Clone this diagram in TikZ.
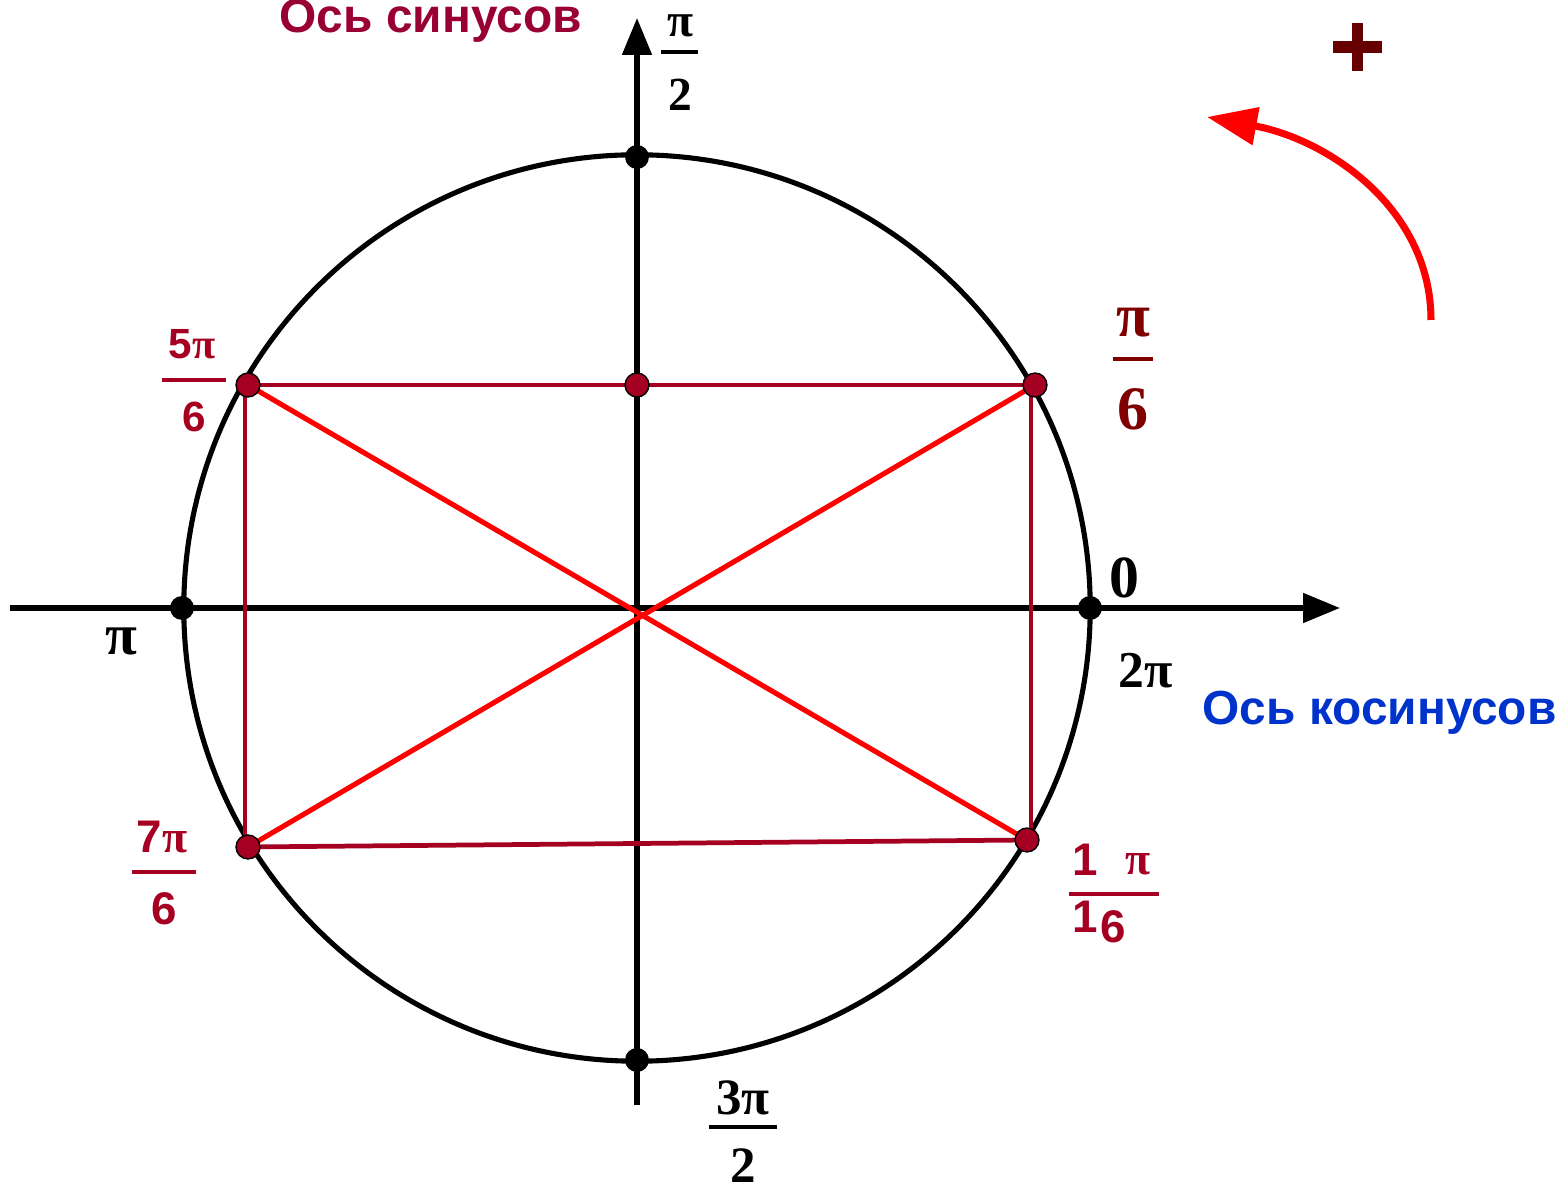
\documentclass[tikz,border=0pt]{standalone}
\usepackage{fontspec}
\setmainfont{Liberation Serif}
\newfontfamily\arialf{Liberation Sans}
\usetikzlibrary{arrows.meta}
\definecolor{dred}{HTML}{A50021}
\definecolor{maroonsix}{HTML}{800000}
\definecolor{sinc}{HTML}{990033}
\definecolor{cosc}{HTML}{0033CC}
\definecolor{plusc}{HTML}{660000}
\newcommand{\myfs}[1]{\fontsize{#1}{#1}\selectfont}
\begin{document}
\begin{tikzpicture}[x=0.01cm,y=0.01cm,
  lbl/.style={inner sep=0pt, anchor=base},
  axis/.style={line width=1.5pt, -{Triangle[length=10.5pt,width=8.2pt]}},
  unitcircle/.style={line width=1.45pt},
  rect/.style={draw=dred, line width=1.35pt},
  diag/.style={draw=red, line width=1.45pt},
  fracbar/.style={line width=1.2pt},
  bdot/.style={circle, fill=black, inner sep=0pt, minimum size=6.8pt},
  rdot/.style={circle, fill=dred, draw=black, line width=0.4pt, inner sep=0pt, minimum size=6.8pt}
]
\useasboundingbox (0,0) rectangle (1563,-1192);

% unit circle
\node[circle, draw, unitcircle, minimum size=906*0.2845pt, inner sep=0pt] (uc) at (637,-608) {};

% axes
\coordinate (xs) at (10,-608);
\coordinate (xe) at (1340,-608);
\coordinate (ys) at (637,-1105);
\coordinate (ye) at (637,-18);
\draw[axis] (xs) -- (xe);
\draw[axis] (ys) -- (ye);

% points
\coordinate (P1) at (1035,-385);
\coordinate (P5) at (248,-385);
\coordinate (P7) at (248,-847);
\coordinate (P11) at (1027,-840);
\coordinate (M) at (637,-385);
\coordinate (R1) at (1031,-385);
\coordinate (R2) at (1031,-840);
\coordinate (L1) at (245,-385);
\coordinate (L2) at (245,-847);

% dark red rectangle
\draw[rect] (P5) -- (M) -- (P1);
\draw[rect] (L1) -- (L2);
\draw[rect] (R1) -- (R2);
\draw[rect] (P7) -- (P11);

% red diagonals
\draw[diag] (P5) -- (P11);
\draw[diag] (P7) -- (P1);

% dots
\node[bdot] (d0) at (1090,-608) {};
\node[bdot] (d90) at (637,-157) {};
\node[bdot] (d180) at (182,-608) {};
\node[bdot] (d270) at (637,-1060) {};
\node[rdot] (dp1) at (P1) {};
\node[rdot] (dp5) at (P5) {};
\node[rdot] (dp7) at (P7) {};
\node[rdot] (dp11) at (P11) {};
\node[rdot] (dm) at (M) {};

% labels: pi/2
\node[lbl, font=\bfseries\myfs{13.5pt}] (phn) at (680,-37) {π};
\node[lbl, font=\bfseries\myfs{13.5pt}] (phd) at (680,-111) {2};
\draw[fracbar] (661,-52) -- (698,-52);

% pi/6
\node[lbl, font=\bfseries\myfs{17.6pt}, text=maroonsix] (p6n) at (1133,-337) {π};
\node[lbl, font=\bfseries\myfs{17.6pt}, text=maroonsix] (p6d) at (1133,-430) {6};
\draw[fracbar, maroonsix, line width=1.4pt] (1113,-359) -- (1153,-359);

% 0, 2pi, pi
\node[lbl, font=\bfseries\myfs{17pt}] (zero) at (1124,-598) {0};
\node[lbl, anchor=base west, font=\bfseries\myfs{14.7pt}] (twopi) at (1118,-688) {2π};
\node[lbl, font=\bfseries\myfs{16.5pt}] (pil) at (121,-655) {π};

% 3pi/2
\node[lbl, font=\bfseries\myfs{14.5pt}] (p32n) at (743,-1115) {3π};
\node[lbl, font=\bfseries\myfs{14.5pt}] (p32d) at (743,-1183) {2};
\draw[fracbar] (709,-1127) -- (777,-1127);

% 5pi/6
\node[lbl, font=\bfseries\myfs{12pt}, text=dred] (p56n) at (192,-359) {{\arialf 5}π};
\node[lbl, font=\bfseries\myfs{12pt}, text=dred] (p56d) at (194,-432) {\arialf 6};
\draw[fracbar, dred] (162,-380) -- (226,-380);

% 7pi/6
\node[lbl, font=\bfseries\myfs{13pt}, text=dred] (p76n) at (162,-853) {{\arialf 7}π};
\node[lbl, font=\bfseries\myfs{13pt}, text=dred] (p76d) at (164,-925) {\arialf 6};
\draw[fracbar, dred] (132,-872) -- (196,-872);

% 11pi/6 (as printed)
\node[lbl, font=\bfseries\myfs{13pt}, text=dred] (p116a) at (1085,-876) {\arialf 1};
\node[lbl, font=\bfseries\myfs{13pt}, text=dred] (p116b) at (1138,-875) {π};
\node[lbl, font=\bfseries\myfs{13pt}, text=dred] (p116c) at (1085,-933) {\arialf 1};
\node[lbl, font=\bfseries\myfs{13pt}, text=dred] (p116d) at (1113,-943) {\arialf 6};
\draw[fracbar, dred] (1069,-894) -- (1159,-894);

% axis titles
\node[lbl, anchor=base west, font=\arialf\bfseries\myfs{13.6pt}, text=sinc] (sint) at (279,-33) {Ось синусов};
\node[lbl, anchor=base west, font=\arialf\bfseries\myfs{13.6pt}, text=cosc] (cost) at (1202,-725) {Ось косинусов};

% plus sign
\fill[plusc] (1333,-41) rectangle (1382,-53);
\fill[plusc] (1352,-23) rectangle (1363,-71);

% rotation arrow
\coordinate (as) at (1431,-320);
\coordinate (ae) at (1207,-117);
\draw[red, line width=2pt, -{Triangle[length=14.2pt,width=10.5pt]}] (as) .. controls (1431,-210) and (1330,-140) .. (ae);
\end{tikzpicture}
\end{document}
